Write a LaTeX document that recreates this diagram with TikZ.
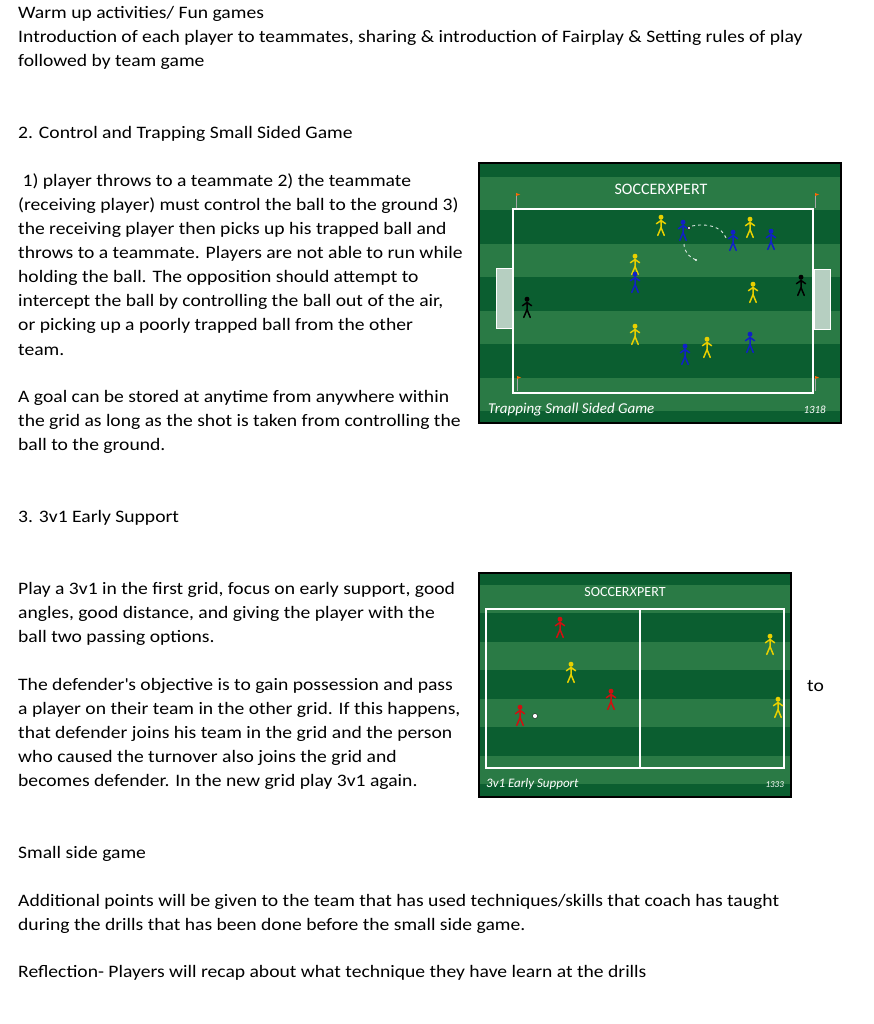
\documentclass[tikz,border=0pt]{standalone}
\usepackage{fontspec}
\setmainfont{Carlito}[FakeStretch=1.12]
\newfontfamily\capfont{Carlito}
\begin{document}
\begin{tikzpicture}[x=1pt,y=-1pt,
  txt/.style={anchor=west,inner sep=0pt,font=\fontsize{17.5}{19}\selectfont},
  fcap/.style={text=white,inner sep=0pt,font=\capfont\itshape\fontsize{15}{16}\selectfont},
  logo/.style={text=white,inner sep=0pt,font=\capfont\fontsize{16}{17}\selectfont},
  fl/.style={white,line width=1.6pt},
  pl/.pic={\begin{scope}[scale=1.3]\fill[#1] (0,-6) circle (1.9);
    \draw[#1,line width=1.5pt,line cap=round] (0,-4)--(0,2) (-3.5,-1)--(0,-3.5)--(3.5,-1) (0,2)--(-2.5,8) (0,2)--(2.5,8);\end{scope}}
]
\useasboundingbox (0,0) rectangle (873,1024);
\definecolor{dk}{HTML}{0B5E30}\definecolor{lt}{HTML}{2A7A45}
\definecolor{yl}{HTML}{E8D000}\definecolor{bl}{HTML}{1020C8}\definecolor{rd}{HTML}{D01010}
% texts
\node[txt] (t1) at (18,14) {Warm up activities/ Fun games};
\node[txt] (t2) at (18,38) {Introduction of each player to teammates, sharing \& introduction of Fairplay \& Setting rules of play};
\node[txt] (t3) at (18,62) {followed by team game};
\node[txt] (t4) at (18,134) {2. Control and Trapping Small Sided Game};
\node[txt] (t5) at (18,182) {\ 1) player throws to a teammate 2) the teammate};
\node[txt] (t6) at (18,206) {(receiving player) must control the ball to the ground 3)};
\node[txt] (t7) at (18,230) {the receiving player then picks up his trapped ball and};
\node[txt] (t8) at (18,254) {throws to a teammate. Players are not able to run while};
\node[txt] (t9) at (18,278) {holding the ball. The opposition should attempt to};
\node[txt] (t10) at (18,302) {intercept the ball by controlling the ball out of the air,};
\node[txt] (t11) at (18,326) {or picking up a poorly trapped ball from the other};
\node[txt] (t12) at (18,350) {team.};
\node[txt] (t13) at (18,398) {A goal can be stored at anytime from anywhere within};
\node[txt] (t14) at (18,422) {the grid as long as the shot is taken from controlling the};
\node[txt] (t15) at (18,446) {ball to the ground.};
\node[txt] (t16) at (18,518) {3. 3v1 Early Support};
\node[txt] (t17) at (18,590) {Play a 3v1 in the first grid, focus on early support, good};
\node[txt] (t18) at (18,614) {angles, good distance, and giving the player with the};
\node[txt] (t19) at (18,638) {ball two passing options.};
\node[txt] (t20) at (18,686) {The defender\textquotesingle s objective is to gain possession and pass};
\node[txt] (t21) at (18,710) {a player on their team in the other grid. If this happens,};
\node[txt] (t22) at (18,734) {that defender joins his team in the grid and the person};
\node[txt] (t23) at (18,758) {who caused the turnover also joins the grid and};
\node[txt] (t24) at (18,782) {becomes defender. In the new grid play 3v1 again.};
\node[txt] (t25) at (807,686) {to};
\node[txt] (t26) at (18,854) {Small side game};
\node[txt] (t27) at (18,902) {Additional points will be given to the team that has used techniques/skills that coach has taught};
\node[txt] (t28) at (18,926) {during the drills that has been done before the small side game.};
\node[txt] (t29) at (18,973) {Reflection- Players will recap about what technique they have learn at the drills};
% field 1
\fill[dk] (478,162) rectangle (842,424);
\foreach \y in {177,244,311,378} \fill[lt] (478,\y) rectangle (842,\y+33);
\draw[black,line width=2pt] (479,163) rectangle (841,423);
\draw[fl] (513,209) rectangle (813,393);
\draw[white,line width=0.8pt,fill=white!70!dk] (496,268) rectangle (512,328) (814,269) rectangle (830,329);
\foreach \p in {(516,193),(815,193),(517,376),(815,376)}{
 \draw[gray!70] \p ++(0,0)--++(0,15); \fill[orange!80!red] \p --++(4,1.5)--++(-4,1.5)--cycle;}
\node[logo] (lg1) at (661,189) {SOCCER\textit{X}PERT};
\node[fcap,anchor=west] (c1) at (488,410) {Trapping Small Sided Game};
\node[fcap,anchor=east,font=\capfont\itshape\fontsize{11}{12}\selectfont] (n1) at (826,410) {1318};
\foreach \q in {(661,225),(750,227),(635,264),(753,292),(635,334),(707,347)} \pic at \q {pl=yl};
\foreach \q in {(683,230),(733,240),(771,239),(635,282),(685,354),(750,342)} \pic at \q {pl=bl};
\foreach \q in {(527,307),(801,285)} \pic at \q {pl=black};
\coordinate (a1) at (726,238); \coordinate (a2) at (692,226);
\coordinate (b1) at (684,244); \coordinate (b2) at (696,260);
\draw[white!85!dk,dashed,line width=0.9pt] (a1) .. controls (722,226) and (705,223) .. (a2);
\draw[white!85!dk,dashed,line width=0.9pt] (b1) .. controls (684,252) and (690,258) .. (b2);
\fill[white] (b2) circle (1.2);
\draw[black,fill=white,line width=0.3pt] (689,228) circle (1.6);
% field 2
\fill[dk] (478,572) rectangle (792,798);
\foreach \y in {585,642,699,756} \fill[lt] (478,\y) rectangle (792,\y+28);
\draw[black,line width=2pt] (479,573) rectangle (791,797);
\draw[fl,line width=1.2pt] (486,609) rectangle (784,768) (640,609)--(640,768);
\node[logo,font=\capfont\fontsize{14}{15}\selectfont] (lg2) at (625,592) {SOCCER\textit{X}PERT};
\node[fcap,anchor=west,font=\capfont\itshape\fontsize{13}{14}\selectfont] (c2) at (486,784) {3v1 Early Support};
\node[fcap,anchor=east,font=\capfont\itshape\fontsize{9}{10}\selectfont] (n2) at (784,785) {1333};
\foreach \q in {(560,627),(520,715),(611,699)} \pic at \q {pl=rd};
\foreach \q in {(571,672),(770,644),(778,707)} \pic at \q {pl=yl};
\draw[black,fill=white,line width=0.3pt] (535,716) circle (2.5);
\end{tikzpicture}
\end{document}
